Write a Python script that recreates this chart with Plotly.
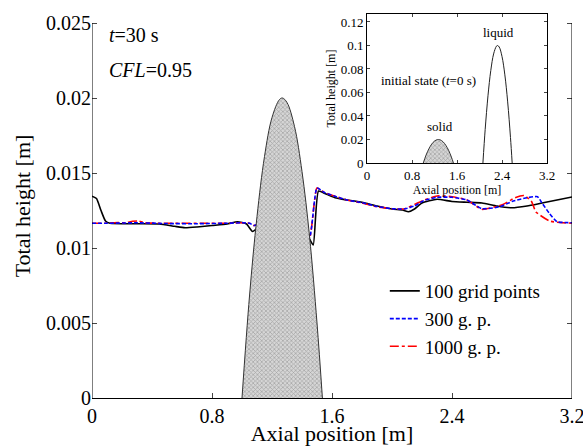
import plotly.graph_objects as go

# ---------------- data ----------------
x_black = [0, 0.03, 0.06, 0.09, 0.12, 0.3, 0.45, 0.55, 0.62, 0.7, 0.8, 0.9, 0.97, 1.03, 1.07, 1.1,
           1.2, 1.3, 1.4, 1.45, 1.475, 1.51, 1.56, 1.62, 1.7, 1.8, 1.9, 2.0, 2.07, 2.11, 2.15, 2.2,
           2.3, 2.4, 2.5, 2.6, 2.7, 2.8, 2.9, 3.0, 3.1, 3.2]
y_black = [0.01345, 0.0133, 0.0125, 0.0118, 0.01165, 0.01162, 0.0116, 0.01145, 0.01135, 0.0114,
           0.0115, 0.0116, 0.01175, 0.0116, 0.0111, 0.0113, 0.0120, 0.0118, 0.0112, 0.0106, 0.0102,
           0.0138, 0.0136, 0.01335, 0.0132, 0.01305, 0.0128, 0.0126, 0.01253, 0.01242, 0.0126,
           0.0130, 0.01325, 0.0131, 0.01305, 0.0130, 0.0128, 0.01268, 0.0128, 0.0130, 0.0132, 0.0134]

x_blue = [0, 0.1, 0.3, 0.5, 0.7, 0.9, 1.0, 1.05, 1.08, 1.2, 1.3, 1.4, 1.45, 1.5, 1.55, 1.62, 1.7,
          1.8, 1.9, 2.0, 2.08, 2.15, 2.21, 2.3, 2.4, 2.5, 2.6, 2.72, 2.8, 2.9, 2.97, 3.0, 3.05,
          3.1, 3.15, 3.2]
y_blue = [0.01165, 0.01165, 0.01168, 0.01163, 0.01162, 0.01165, 0.01168, 0.01165, 0.0115, 0.0120,
          0.0118, 0.0112, 0.0107, 0.0140, 0.0137, 0.01345, 0.0132, 0.01302, 0.01277, 0.01262,
          0.0126, 0.0128, 0.01315, 0.01338, 0.01338, 0.0132, 0.01262, 0.01275, 0.0131, 0.01335,
          0.01342, 0.0130, 0.0123, 0.01175, 0.0117, 0.01168]

x_red = [0, 0.1, 0.17, 0.22, 0.27, 0.31, 0.35, 0.5, 0.7, 0.9, 1.0, 1.05, 1.08, 1.2, 1.3, 1.4,
         1.45, 1.5, 1.55, 1.62, 1.7, 1.8, 1.9, 2.0, 2.08, 2.15, 2.21, 2.3, 2.4, 2.5, 2.6, 2.74,
         2.82, 2.88, 2.93, 2.96, 3.05, 3.1, 3.2]
y_red = [0.01165, 0.01165, 0.0117, 0.01168, 0.01178, 0.0118, 0.01168, 0.01165, 0.01165, 0.01165,
         0.01168, 0.01165, 0.0115, 0.0120, 0.0118, 0.0112, 0.0107, 0.0140, 0.0137, 0.01345,
         0.0132, 0.013, 0.01275, 0.01262, 0.0126, 0.0129, 0.01318, 0.01347, 0.01342, 0.0132,
         0.01258, 0.0129, 0.01335, 0.0135, 0.0131, 0.0124, 0.0118, 0.01172, 0.01165]

solid_x = [1.0, 1.05, 1.1, 1.15, 1.2, 1.25, 1.27, 1.3, 1.35, 1.4, 1.45, 1.5, 1.536]
solid_h = [0, 0.0068, 0.0121, 0.0161, 0.0187, 0.0199, 0.0200, 0.0197, 0.0181, 0.0151, 0.0108, 0.0050, 0]

liquid_x = [2.06, 2.1, 2.15, 2.2, 2.25, 2.3, 2.32, 2.35, 2.4, 2.45, 2.5, 2.55, 2.58]
liquid_h = [0, 0.0284, 0.0572, 0.0787, 0.0928, 0.0994, 0.1, 0.0987, 0.0905, 0.075, 0.052, 0.0217, 0]

x_ticks = [0, 0.8, 1.6, 2.4, 3.2]
x_ticklabels = ["0", "0.8", "1.6", "2.4", "3.2"]
y_ticks = [0, 0.005, 0.01, 0.015, 0.02, 0.025]
y_ticklabels = ["0", "0.005", "0.01", "0.015", "0.02", "0.025"]
inset_y_ticks = [0, 0.02, 0.04, 0.06, 0.08, 0.1, 0.12]
inset_y_ticklabels = ["0", "0.02", "0.04", "0.06", "0.08", "0.1", "0.12"]

FONT = "Liberation Serif"
hatch = dict(shape="x", fgcolor="#6e6e6e", bgcolor="#d6d6d6", size=3, solidity=0.4)

fig = go.Figure()

fig.add_trace(go.Scatter(x=x_black, y=y_black, mode="lines", name="100 grid points",
                         line=dict(color="black", width=1.6, shape="spline", smoothing=0.5),
                         legendrank=1))
fig.add_trace(go.Scatter(x=x_red, y=y_red, mode="lines", name="1000 g. p.",
                         line=dict(color="red", width=1.6, dash="dashdot", shape="spline", smoothing=0.5),
                         legendrank=3))
fig.add_trace(go.Scatter(x=x_blue, y=y_blue, mode="lines", name="300 g. p.",
                         line=dict(color="blue", width=1.6, dash="4px,2px", shape="spline", smoothing=0.5),
                         legendrank=2))
# solid hump (covers the lines)
fig.add_trace(go.Scatter(x=solid_x, y=solid_h, mode="lines", fill="tozeroy", fillpattern=hatch,
                         line=dict(color="#333", width=1, shape="spline"), showlegend=False,
                         hoverinfo="skip"))

# inset
fig.add_trace(go.Scatter(x=solid_x, y=solid_h, mode="lines", fill="tozeroy", fillpattern=hatch,
                         line=dict(color="#333", width=1, shape="spline"), showlegend=False,
                         xaxis="x2", yaxis="y2"))
fig.add_trace(go.Scatter(x=liquid_x, y=liquid_h, mode="lines",
                         line=dict(color="#222", width=1, shape="spline"), showlegend=False,
                         xaxis="x2", yaxis="y2"))

fig.update_layout(
    width=583, height=446,
    margin=dict(l=92, r=11, t=14, b=48),
    paper_bgcolor="white", plot_bgcolor="white",
    font=dict(family=FONT, size=20, color="black"),
    xaxis=dict(range=[0, 3.2], tickvals=x_ticks, ticktext=x_ticklabels, ticks="inside",
               ticklen=5, showline=True, linecolor="black", linewidth=1, showgrid=False,
               zeroline=False, automargin=False, tickfont=dict(size=20), ticklabeloverflow="allow",
               title=dict(text="Axial position [m]", standoff=0, font=dict(size=22))),
    yaxis=dict(range=[0, 0.0256], tickvals=y_ticks, ticktext=y_ticklabels, ticks="inside",
               ticklen=5, showline=False, mirror="ticks", showgrid=False, zeroline=False,
               automargin=False, tickfont=dict(size=20),
               title=dict(text="Total height [m]", standoff=9, font=dict(size=22))),
    xaxis2=dict(domain=[0.573, 0.948], anchor="y2", range=[0, 3.2], tickvals=x_ticks,
                ticktext=x_ticklabels, ticks="inside", ticklen=3, showline=True, mirror="ticks",
                linecolor="black", linewidth=1, showgrid=False, zeroline=False, automargin=False,
                tickfont=dict(size=13), title=dict(text="Axial position [m]", font=dict(size=12), standoff=2)),
    yaxis2=dict(domain=[0.612, 1.0], anchor="x2", range=[0, 0.1268], tickvals=inset_y_ticks,
                ticktext=inset_y_ticklabels, ticks="inside", ticklen=3, showline=True, mirror="ticks",
                linecolor="black", linewidth=1, showgrid=False, zeroline=False, automargin=False,
                tickfont=dict(size=13), title=dict(text="Total height [m]", font=dict(size=12), standoff=2)),
    legend=dict(x=0.61, y=0.328, xanchor="left", yanchor="top", bgcolor="rgba(0,0,0,0)",
                font=dict(size=19), tracegroupgap=0, itemwidth=30),
    shapes=[
        dict(type="line", xref="x", yref="y", x0=0, x1=0, y0=0, y1=0.025, line=dict(color="black", width=1)),
        dict(type="line", xref="x", yref="y", x0=3.2, x1=3.2, y0=0, y1=0.025, line=dict(color="black", width=1)),
    ],
    annotations=[
        dict(xref="x", yref="y", x=0.1, y=0.0242, xanchor="left", showarrow=False,
             text="<i>t</i>=30 s", font=dict(size=20)),
        dict(xref="x", yref="y", x=0.1, y=0.0219, xanchor="left", showarrow=False,
             text="<i>CFL</i>=0.95", font=dict(size=20)),
        dict(xref="x2", yref="y2", x=2.33, y=0.111, showarrow=False, text="liquid", font=dict(size=13)),
        dict(xref="x2", yref="y2", x=1.3, y=0.031, showarrow=False, text="solid", font=dict(size=13)),
        dict(xref="x2", yref="y2", x=1.1, y=0.07, showarrow=False,
             text="initial state (<i>t</i>=0 s)", font=dict(size=13)),
    ],
)

fig.write_html("out.html", config={"displayModeBar": False},
               post_script="document.body.style.margin='0';document.body.style.overflow='hidden';")
